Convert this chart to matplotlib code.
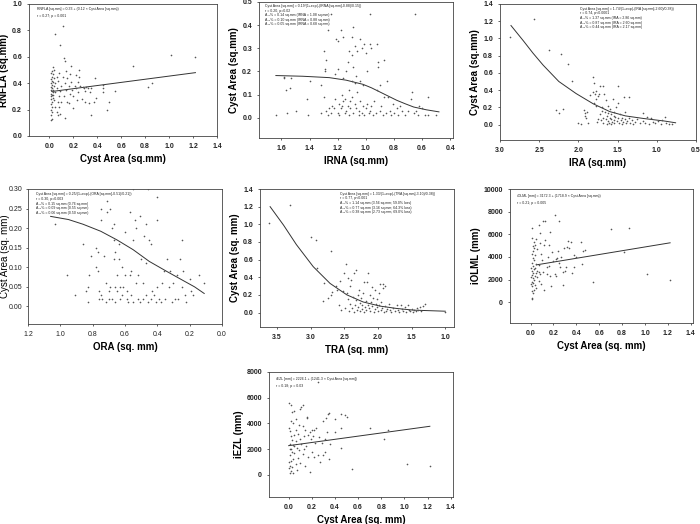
import numpy as np
import matplotlib
matplotlib.use('Agg')
import matplotlib.pyplot as plt

plt.rcParams['font.family'] = ['Liberation Sans', 'DejaVu Sans']

C_PT   = '#555555'
C_LINE = '#333333'
W, H = 700, 524

# ── data ───────────────────────────────────────────────────────
# panel 1: RNFLA vs cyst area
p1_pts = [(0.01,0.12),(0.02,0.13),(0.01,0.16),(0.02,0.18),(0.01,0.20),(0.02,0.22),(0.01,0.24),(0.02,0.26),
          (0.01,0.28),(0.03,0.29),(0.01,0.30),(0.02,0.31),(0.01,0.32),(0.03,0.33),(0.02,0.34),(0.01,0.35),
          (0.03,0.35),(0.02,0.36),(0.01,0.37),(0.04,0.38),(0.02,0.39),(0.01,0.40),(0.03,0.41),(0.02,0.42),
          (0.01,0.43),(0.04,0.44),(0.02,0.45),(0.03,0.47),(0.01,0.48),(0.02,0.49),(0.04,0.50),(0.03,0.52),
          (0.05,0.77),(0.03,0.31),(0.04,0.27),(0.05,0.22),(0.05,0.33),(0.05,0.40),(0.06,0.18),(0.06,0.36),
          (0.06,0.45),(0.07,0.16),(0.07,0.26),(0.07,0.42),(0.08,0.30),(0.08,0.22),(0.08,0.48),(0.09,0.69),
          (0.09,0.34),(0.09,0.17),(0.10,0.26),(0.10,0.38),(0.11,0.83),(0.11,0.45),(0.12,0.59),(0.12,0.30),
          (0.13,0.57),(0.13,0.14),(0.13,0.40),(0.14,0.49),(0.14,0.35),(0.15,0.26),(0.15,0.44),(0.16,0.38),
          (0.16,0.25),(0.17,0.47),(0.17,0.32),(0.18,0.53),(0.18,0.41),(0.19,0.35),(0.20,0.21),(0.20,0.30),
          (0.21,0.38),(0.22,0.46),(0.22,0.36),(0.23,0.27),(0.24,0.41),(0.24,0.33),(0.25,0.50),(0.25,0.45),
          (0.26,0.38),(0.27,0.28),(0.28,0.37),(0.29,0.36),(0.30,0.34),(0.30,0.26),(0.31,0.37),(0.32,0.36),
          (0.33,0.25),(0.34,0.33),(0.35,0.16),(0.35,0.36),(0.37,0.26),(0.38,0.44),(0.39,0.29),(0.45,0.39),
          (0.45,0.36),(0.45,0.33),(0.48,0.20),(0.50,0.26),(0.55,0.34),(0.70,0.53),(0.82,0.37),(0.86,0.40),
          (1.02,0.61),(1.22,0.60)]
p1_fit = [(0.02,0.337),(1.22,0.48)]

# panel 2: cyst area vs IRNA
p2_pts = [(1.64,0.01),(1.58,0.17),(1.58,0.175),(1.57,0.12),(1.56,0.02),(1.54,0.13),(1.53,0.17),(1.50,0.03),
          (1.42,0.08),(1.41,0.01),(1.40,0.16),(1.32,0.14),(1.32,0.02),(1.30,0.29),(1.30,0.09),(1.29,0.21),
          (1.29,0.20),(1.28,0.25),(1.28,0.03),(1.27,0.38),(1.27,0.01),(1.26,0.04),(1.25,0.45),(1.25,0.02),
          (1.24,0.05),(1.23,0.04),(1.22,0.19),(1.22,0.08),(1.21,0.34),(1.20,0.33),(1.20,0.21),(1.20,0.02),
          (1.19,0.06),(1.19,0.01),(1.18,0.04),(1.18,0.38),(1.17,0.05),(1.17,0.10),(1.16,0.35),(1.16,0.17),
          (1.16,0.07),(1.15,0.08),(1.15,0.02),(1.14,0.20),(1.14,0.03),(1.13,0.05),(1.13,0.24),(1.12,0.29),
          (1.12,0.12),(1.12,0.01),(1.11,0.07),(1.11,0.04),(1.10,0.35),(1.10,0.27),(1.10,0.16),(1.10,0.09),
          (1.09,0.39),(1.09,0.22),(1.09,0.02),(1.08,0.31),(1.08,0.15),(1.08,0.06),(1.07,0.18),(1.07,0.04),
          (1.06,0.29),(1.06,0.11),(1.05,0.01),(1.05,0.03),(1.04,0.34),(1.04,0.16),(1.04,0.07),(1.03,0.30),
          (1.03,0.02),(1.02,0.05),(1.02,0.14),(1.01,0.32),(1.01,0.01),(1.00,0.28),(1.00,0.04),(0.99,0.20),
          (0.99,0.06),(0.98,0.02),(0.97,0.45),(0.97,0.32),(0.97,0.03),(0.96,0.30),(0.96,0.05),(0.95,0.01),
          (0.94,0.07),(0.93,0.02),(0.92,0.32),(0.92,0.12),(0.91,0.24),(0.91,0.22),(0.90,0.14),(0.90,0.03),
          (0.89,0.05),(0.88,0.01),(0.87,0.25),(0.87,0.09),(0.86,0.02),(0.85,0.16),(0.84,0.09),(0.83,0.03),
          (0.82,0.01),(0.81,0.06),(0.80,0.02),(0.78,0.04),(0.77,0.01),(0.76,0.05),(0.74,0.03),(0.72,0.01),
          (0.70,0.03),(0.68,0.08),(0.67,0.11),(0.66,0.02),(0.65,0.45),(0.64,0.03),(0.63,0.01),(0.62,0.05),
          (0.60,0.04),(0.58,0.01),(0.56,0.09),(0.56,0.01),(0.50,0.01)]
p2_fit = [(1.64,0.182),(1.45,0.179),(1.26,0.173),(1.14,0.162),(1.02,0.144),(0.96,0.129),(0.90,0.111),
          (0.84,0.093),(0.78,0.075),(0.72,0.060),(0.66,0.046),(0.57,0.034),(0.48,0.025)]

# panel 3: cyst area vs IRA
p3_pts = [(2.87,1.02),(2.57,1.22),(2.37,0.86),(2.22,0.82),(2.13,0.70),(2.08,0.50),(2.29,0.17),(2.25,0.13),
          (2.20,0.18),(2.00,0.02),(1.97,0.01),(1.93,0.17),(1.92,0.10),(1.91,0.13),(1.90,0.08),(1.89,0.15),
          (1.88,0.02),(1.85,0.34),(1.82,0.55),(1.81,0.38),(1.80,0.48),(1.80,0.25),(1.79,0.36),(1.78,0.39),
          (1.78,0.22),(1.77,0.30),(1.76,0.03),(1.75,0.33),(1.74,0.35),(1.73,0.45),(1.72,0.12),(1.71,0.05),
          (1.70,0.20),(1.69,0.08),(1.68,0.45),(1.68,0.02),(1.67,0.35),(1.66,0.15),(1.65,0.28),(1.65,0.06),
          (1.64,0.01),(1.63,0.10),(1.62,0.22),(1.62,0.04),(1.61,0.02),(1.60,0.08),(1.60,0.18),(1.59,0.12),
          (1.58,0.06),(1.57,0.03),(1.56,0.30),(1.55,0.14),(1.55,0.05),(1.54,0.02),(1.53,0.09),(1.52,0.20),
          (1.51,0.04),(1.50,0.07),(1.50,0.25),(1.49,0.45),(1.48,0.02),(1.47,0.12),(1.46,0.05),(1.45,0.08),
          (1.44,0.01),(1.43,0.03),(1.42,0.32),(1.41,0.06),(1.40,0.15),(1.39,0.02),(1.38,0.04),(1.36,0.32),
          (1.35,0.08),(1.34,0.02),(1.32,0.05),(1.30,0.01),(1.28,0.03),(1.25,0.06),(1.22,0.02),(1.18,0.13),
          (1.17,0.04),(1.15,0.02),(1.12,0.09),(1.10,0.01),(1.07,0.08),(1.05,0.03),(1.02,0.02),(0.98,0.04),
          (0.95,0.01),(0.93,0.05),(0.90,0.09),(0.88,0.02),(0.85,0.01),(0.80,0.01),(1.55,0.10),(1.62,0.13),
          (1.70,0.16),(1.75,0.06),(1.58,0.01)]
p3_fit = [(2.86,1.15),(2.70,0.97),(2.58,0.83),(2.45,0.69),(2.25,0.50),(2.03,0.36),(1.81,0.24),(1.60,0.15),
          (1.40,0.10),(1.17,0.07),(0.90,0.04),(0.76,0.02)]

# panel 4: cyst area vs ORA
p4_pts = [(1.03,0.21),(0.96,0.08),(0.91,0.03),(0.86,0.16),(0.83,0.05),(0.83,0.01),(0.84,0.04),(0.82,0.08),
          (0.81,0.13),(0.78,0.15),(0.78,0.10),(0.77,0.14),(0.77,0.09),(0.76,0.04),(0.76,0.02),(0.75,0.25),
          (0.75,0.22),(0.75,0.03),(0.74,0.02),(0.73,0.13),(0.72,0.06),(0.72,0.01),(0.71,0.27),(0.71,0.24),
          (0.70,0.04),(0.70,0.02),(0.69,0.25),(0.69,0.05),(0.68,0.20),(0.68,0.02),(0.67,0.17),(0.67,0.21),
          (0.67,0.12),(0.66,0.14),(0.66,0.05),(0.66,0.01),(0.65,0.04),(0.65,0.08),(0.64,0.16),(0.64,0.12),
          (0.63,0.05),(0.63,0.02),(0.62,0.10),(0.62,0.03),(0.61,0.05),(0.60,0.19),(0.60,0.08),(0.59,0.02),
          (0.59,0.04),(0.58,0.01),(0.57,0.24),(0.57,0.08),(0.56,0.09),(0.56,0.03),(0.55,0.30),(0.55,0.17),
          (0.55,0.01),(0.54,0.22),(0.53,0.20),(0.53,0.06),(0.52,0.02),(0.52,0.08),(0.51,0.23),(0.51,0.01),
          (0.50,0.12),(0.49,0.06),(0.49,0.02),(0.48,0.18),(0.47,0.21),(0.47,0.11),(0.47,0.03),(0.46,0.30),
          (0.46,0.01),(0.45,0.17),(0.44,0.16),(0.44,0.02),(0.43,0.04),(0.42,0.03),(0.41,0.01),(0.40,0.28),
          (0.40,0.22),(0.40,0.05),(0.39,0.02),(0.38,0.01),(0.37,0.06),(0.36,0.09),(0.35,0.02),(0.34,0.12),
          (0.33,0.05),(0.32,0.09),(0.31,0.01),(0.30,0.06),(0.29,0.02),(0.28,0.08),(0.27,0.02),(0.26,0.12),
          (0.25,0.17),(0.25,0.05),(0.24,0.09),(0.23,0.03),(0.22,0.01),(0.20,0.07),(0.19,0.04),(0.18,0.03),
          (0.14,0.08),(0.11,0.06)]
p4_fit = [(1.06,0.230),(0.95,0.222),(0.86,0.210),(0.75,0.192),(0.65,0.170),(0.55,0.145),(0.45,0.115),
          (0.34,0.089),(0.24,0.066),(0.17,0.050),(0.11,0.033)]

# panel 5: cyst area vs TRA
p5_pts = [(3.62,1.02),(3.30,1.22),(3.00,0.86),(2.92,0.82),(2.90,0.50),(2.70,0.70),(2.80,0.33),(2.81,0.13),
          (2.74,0.17),(2.70,0.20),(2.68,0.23),(2.62,0.30),(2.60,0.25),(2.58,0.08),(2.56,0.36),(2.55,0.03),
          (2.52,0.24),(2.50,0.45),(2.49,0.05),(2.47,0.55),(2.46,0.22),(2.45,0.15),(2.44,0.39),(2.43,0.02),
          (2.42,0.30),(2.41,0.10),(2.40,0.37),(2.38,0.05),(2.37,0.18),(2.36,0.01),(2.35,0.45),(2.34,0.08),
          (2.33,0.48),(2.32,0.14),(2.31,0.03),(2.30,0.20),(2.29,0.06),(2.28,0.25),(2.27,0.02),(2.26,0.11),
          (2.25,0.16),(2.24,0.04),(2.23,0.08),(2.22,0.22),(2.21,0.01),(2.20,0.35),(2.19,0.06),(2.18,0.13),
          (2.17,0.03),(2.16,0.35),(2.15,0.09),(2.14,0.45),(2.13,0.05),(2.12,0.20),(2.11,0.02),(2.10,0.12),
          (2.09,0.29),(2.08,0.07),(2.07,0.17),(2.06,0.01),(2.05,0.04),(2.04,0.25),(2.03,0.10),(2.02,0.06),
          (2.01,0.15),(2.00,0.02),(1.99,0.22),(1.98,0.08),(1.97,0.32),(1.96,0.03),(1.95,0.12),(1.94,0.05),
          (1.93,0.28),(1.92,0.32),(1.91,0.01),(1.90,0.30),(1.89,0.07),(1.88,0.02),(1.86,0.04),(1.84,0.10),
          (1.82,0.03),(1.80,0.01),(1.78,0.05),(1.75,0.02),(1.72,0.08),(1.70,0.03),(1.68,0.01),(1.66,0.09),
          (1.64,0.04),(1.62,0.02),(1.60,0.06),(1.58,0.01),(1.56,0.08),(1.54,0.03),(1.52,0.02),(1.50,0.04),
          (1.48,0.01),(1.46,0.03),(1.44,0.02),(1.42,0.05),(1.40,0.03),(1.38,0.06),(1.36,0.02),(1.33,0.07),
          (1.30,0.10),(1.00,0.01)]
p5_fit = [(3.60,1.20),(3.40,0.99),(3.21,0.77),(2.96,0.52),(2.71,0.33),(2.46,0.20),(2.22,0.12),
          (1.97,0.073),(1.72,0.046),(1.47,0.027),(1.00,0.015)]

# panel 6: iOLML vs cyst area
p6_pts = [(0.70,6500),(0.86,6600),(0.82,4400),(1.02,2500),(1.22,1950),(0.55,1800),(0.21,7700),(0.25,7200),
          (0.11,7200),(0.13,7150),(0.07,6800),(0.01,6600),(0.08,6100),(0.17,6200),(0.28,1500),(0.48,4600),
          (0.46,4500),(0.44,5300),(0.45,3400),(0.38,4200),(0.38,3100),(0.35,5300),(0.33,5400),(0.32,4900),
          (0.31,3100),(0.30,2800),(0.29,4800),(0.28,2700),(0.27,4000),(0.25,3500),(0.24,4500),(0.23,3900),
          (0.22,2300),(0.21,2500),(0.20,3600),(0.19,4400),(0.18,1450),(0.17,2300),(0.16,5100),(0.16,3200),
          (0.15,4000),(0.14,2500),(0.13,5500),(0.12,1100),(0.11,2700),(0.10,3700),(0.09,4300),(0.09,1600),
          (0.08,5200),(0.08,2500),(0.07,3300),(0.07,1900),(0.06,4700),(0.06,2800),(0.05,5600),(0.05,3400),
          (0.05,1300),(0.04,5100),(0.04,4200),(0.04,2300),(0.04,1500),(0.03,5300),(0.03,4800),(0.03,3700),
          (0.03,2900),(0.03,2000),(0.03,1100),(0.02,5000),(0.02,4500),(0.02,3900),(0.02,3200),(0.02,2600),
          (0.02,2100),(0.02,1700),(0.02,800),(0.01,5700),(0.01,4300),(0.01,3500),(0.01,2800),(0.01,2400),
          (0.01,1800),(0.01,1400),(0.01,1000),(0.01,400),(0.01,300),(0.00,3000),(0.00,2200),(0.00,1600),
          (0.05,2600),(0.06,2200),(0.07,2700),(0.04,3000),(0.36,2600),(0.40,4000),(0.34,4800),(0.26,3100),
          (0.22,3800),(0.12,5100),(0.14,3100)]
p6_fit = [(0.05,3300),(1.22,5250)]

# panel 7: iEZL vs cyst area
p7_pts = [(0.25,7200),(0.00,5600),(0.02,5400),(0.12,5400),(0.11,5300),(0.10,5100),(0.05,5000),(0.03,4900),
          (0.35,4800),(0.34,4700),(0.45,4700),(0.49,4650),(0.50,4500),(0.16,4500),(0.16,4400),(0.32,4400),
          (0.06,4300),(0.30,4200),(0.40,4300),(0.02,4200),(0.04,4000),(0.09,3900),(0.12,3800),(0.00,3600),
          (0.45,3600),(0.70,3600),(0.86,3450),(0.01,3400),(0.14,3500),(0.20,3500),(0.22,3500),(0.24,3600),
          (0.33,3300),(0.40,3300),(0.18,3300),(0.08,3200),(0.05,3100),(0.17,3100),(0.21,3000),(0.13,3000),
          (0.02,3000),(0.82,2800),(0.26,2900),(0.31,2800),(0.10,2800),(0.03,2700),(0.06,2600),(0.23,2500),
          (0.29,2500),(0.36,2400),(0.11,2400),(0.01,2400),(0.04,2300),(0.15,2200),(0.07,2100),(0.45,2100),
          (0.02,2000),(0.09,1900),(0.20,1800),(0.31,1800),(0.05,1700),(0.12,1600),(0.25,1500),(0.30,1500),
          (0.01,1500),(0.17,1400),(0.22,1400),(0.08,1300),(0.04,1200),(0.02,1100),(0.27,1000),(0.35,1200),
          (0.10,900),(0.06,800),(0.01,700),(0.14,700),(0.03,600),(0.00,500),(0.55,450),(1.02,850),
          (1.22,700),(0.07,400),(0.02,300),(0.18,200),(0.01,150),(0.04,100),(0.03,1800),(0.05,2200),
          (0.06,3500),(0.13,2000),(0.19,2800),(0.01,2000),(0.00,1000)]
p7_fit = [(0.00,2260),(1.22,3770)]

# annotation text per panel
p1_txt = ['RNFLA [sq.mm] = 0.33 + (0.12 × Cyst Area [sq.mm])', 'r = 0.27; p = 0.001']
p2_txt = ['Cyst Area [sq.mm] = 0.19/(1+exp(-(IRNA [sq.mm]-0.88)/0.15))', 'r = 0.20, p=0.02',
          'A₁₀% = 0.14 sq.mm (IRNA = 1.08 sq.mm)', 'A₅₀% = 0.10 sq.mm (IRNA = 0.88 sq.mm)',
          'A₉₀% = 0.05 sq.mm (IRNA = 0.68 sq.mm)']
p3_txt = ['Cyst Area [sq.mm] = 1.74/(1+exp(-(IRA [sq.mm]-2.60)/0.38))', 'r = 0.74, p<0.0001',
          'A₁₀% = 1.37 sq.mm (IRA = 2.86 sq.mm)', 'A₅₀% = 0.87 sq.mm (IRA = 2.60 sq.mm)',
          'A₉₀% = 0.44 sq.mm (IRA = 2.17 sq.mm)']
p4_txt = ['Cyst Area [sq.mm] = 0.25/(1+exp(-(ORA [sq.mm]-0.51)/0.21))', 'r = 0.30, p=0.003',
          'A₁₀% = 0.15 sq.mm (0.76 sq.mm)', 'A₅₀% = 0.09 sq.mm (0.55 sq.mm)',
          'A₉₀% = 0.06 sq.mm (0.50 sq.mm)']
p5_txt = ['Cyst Area [sq.mm] = 1.33/(1+exp(-(TRA [sq.mm]-3.10)/0.38))', 'r = 0.77, p<0.001',
          'A₁₀% = 1.14 sq.mm (3.56 sq.mm; 59.0% loss)', 'A₅₀% = 0.77 sq.mm (3.16 sq.mm; 64.3% loss)',
          'A₉₀% = 0.38 sq.mm (2.73 sq.mm; 69.0% loss)']
p6_txt = ['iOLML [mm] = 3172.3 + (1718.9 × Cyst Area [sq.mm])', 'r = 0.21; p = 0.005']
p7_txt = ['iEZL [mm] = 2226.1 + (1241.3 × Cyst Area [sq.mm])', 'r = 0.18; p = 0.03']


def panel(box, pts, fit, xlim, ylim, xticks, yticks, xlab, ylab, txt, txt_xy,
          xfmt='%.1f', yfmt='%.1f', weight='bold', line_px=4.6, ylab_x=None):
    l, r, t, b = box
    ax = fig.add_axes([l / W, (H - b) / H, (r - l) / W, (b - t) / H])
    x, y = np.array(pts).T
    ax.scatter(x, y, s=1.4, c=C_PT, marker='o', linewidths=0, zorder=3)
    fx, fy = np.array(fit).T
    ax.plot(fx, fy, color=C_LINE, lw=0.7, zorder=2)
    ax.set_xlim(*xlim)
    ax.set_ylim(*ylim)
    ax.set_xticks(xticks)
    ax.set_yticks(yticks)
    ax.set_xticklabels([xfmt % v for v in xticks], fontsize=5, fontweight=weight)
    ax.set_yticklabels([yfmt % v for v in yticks], fontsize=5, fontweight=weight)
    ax.tick_params(length=1.5, width=0.5, pad=3.5, colors='#222222')
    ax.set_xlabel(xlab, fontsize=7, fontweight='bold', labelpad=3)
    ax.set_ylabel(ylab, fontsize=7, fontweight='bold' if weight == 'bold' else 'normal',
                  labelpad=2)
    if ylab_x is not None:
        ax.tick_params(axis='y', pad=2.5)
        ax.yaxis.set_label_coords(ylab_x, 0.5)
    for s in ax.spines.values():
        s.set_linewidth(0.6)
        s.set_color('#444444')
    tx, ty = txt_xy
    gap = line_px / (b - t)
    for i, line in enumerate(txt):
        ax.text(tx, ty - i * gap, line, transform=ax.transAxes,
                fontsize=2.5, va='top', ha='left', color='#222222')
    return ax


fig = plt.figure(figsize=(7, 5.24), dpi=100, facecolor='white')

panel((29, 217, 4, 136), p1_pts, p1_fit, (-0.17, 1.4), (0, 1.0),
      np.arange(0, 1.41, 0.2), np.arange(0, 1.01, 0.2),
      'Cyst Area (sq.mm)', 'RNFLA (sq.mm)', p1_txt, (0.04, 0.975), line_px=6.5)

panel((259, 453, 2, 138), p2_pts, p2_fit, (1.76, 0.38), (-0.088, 0.5),
      np.arange(1.6, 0.39, -0.2), np.arange(0, 0.51, 0.1),
      'IRNA (sq.mm)', 'Cyst Area (sq.mm)', p2_txt, (0.03, 0.985))

panel((500, 696, 4, 140), p3_pts, p3_fit, (3.0, 0.5), (-0.18, 1.4),
      np.arange(3.0, 0.49, -0.5), np.arange(0, 1.41, 0.2),
      'IRA (sq.mm)', 'Cyst Area (sq.mm)', p3_txt, (0.41, 0.98))

panel((28, 222, 189, 324), p4_pts, p4_fit, (1.2, 0.0), (-0.045, 0.30),
      np.arange(1.2, -0.01, -0.2), np.arange(0, 0.301, 0.05),
      'ORA (sq. mm)', 'Cyst Area (sq. mm)', p4_txt, (0.04, 0.975),
      yfmt='%.2f', weight='normal', ylab_x=-0.095)

panel((260, 454, 189, 327), p5_pts, p5_fit, (3.75, 0.87), (-0.164, 1.4),
      np.arange(3.5, 0.99, -0.5), np.arange(0, 1.41, 0.2),
      'TRA (sq. mm)', 'Cyst Area (sq. mm)', p5_txt, (0.41, 0.98))

panel((510, 693, 189, 323), p6_pts, p6_fit, (-0.18, 1.42), (-1830, 10000),
      np.arange(0, 1.41, 0.2), np.arange(0, 10001, 2000),
      'Cyst Area (sq. mm)', 'iOLML (mm)', p6_txt, (0.04, 0.96), yfmt='%d', line_px=6.5)

panel((269, 453, 372, 497), p7_pts, p7_fit, (-0.17, 1.42), (-1740, 8000),
      np.arange(0, 1.41, 0.2), np.arange(0, 8001, 2000),
      'Cyst Area (sq. mm)', 'iEZL (mm)', p7_txt, (0.04, 0.96), yfmt='%d', line_px=6.5)

fig.savefig('out.png', dpi=100, facecolor='white')
